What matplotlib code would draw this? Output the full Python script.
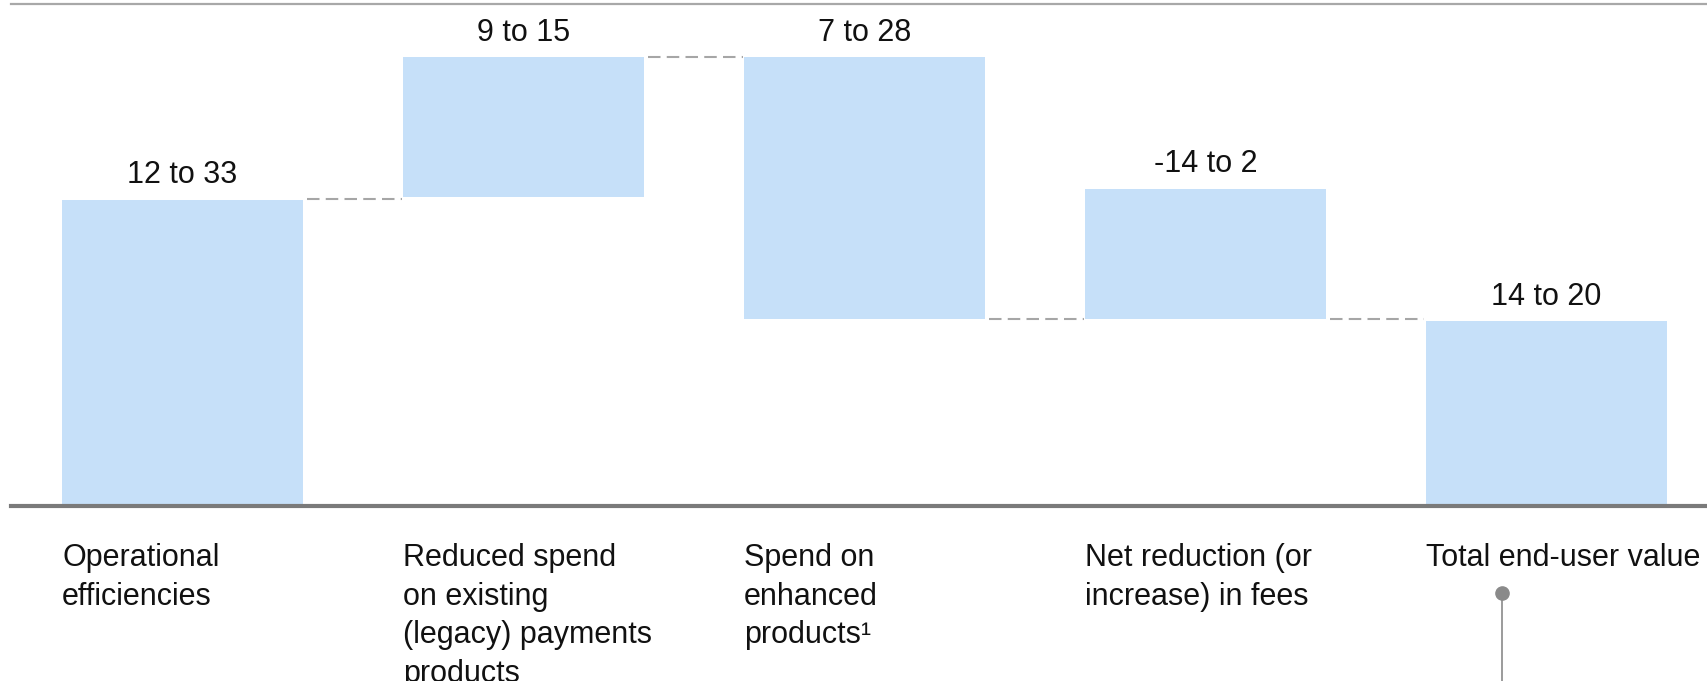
import matplotlib
matplotlib.use("Agg")
import matplotlib.pyplot as plt
import matplotlib.transforms as mtransforms

plt.rcParams['font.family'] = ['Liberation Sans', 'DejaVu Sans']

categories = [
    "Operational\nefficiencies",
    "Reduced spend\non existing\n(legacy) payments\nproducts",
    "Spend on\nenhanced\nproducts\u00b9",
    "Net reduction (or\nincrease) in fees",
    "Total end-user value",
]
value_labels = ["12 to 33", "9 to 15", "7 to 28", "-14 to 2", "14 to 20"]
bar_bottoms = [0.0, 28.4, 17.2, 17.2, 0.0]
bar_tops = [28.2, 41.3, 41.3, 29.2, 17.0]
connector_levels = [28.3, 41.3, 17.2, 17.2]

W, H = 1707, 681
fig = plt.figure(figsize=(W / 100, H / 100), dpi=100)
ax = fig.add_axes([0.0064, 0.257, 0.9936, 0.737])

bar_color = "#c6e0f9"
bw = 0.705
xs = list(range(len(categories)))
heights = [t - b for t, b in zip(bar_tops, bar_bottoms)]
ax.bar(xs, heights, bottom=bar_bottoms, width=bw, color=bar_color,
       edgecolor="none", zorder=2)

for x, top, lab in zip(xs, bar_tops, value_labels):
    ax.annotate(lab, (x, top), xytext=(0, 7), textcoords="offset points",
                ha="center", va="bottom", fontsize=22, color="#111111")

for i, lvl in enumerate(connector_levels):
    ax.plot([xs[i] + bw / 2 + 0.012, xs[i + 1] - bw / 2 - 0.005], [lvl, lvl],
            color="#a6a6a6", lw=1.5, dashes=(6.0, 3.0), zorder=1)

ax.set_xlim(-0.503, 4.471)
ax.set_ylim(0, 46.2)

for s in ["left", "right"]:
    ax.spines[s].set_visible(False)
ax.spines["top"].set_color("#a8a8a8")
ax.spines["top"].set_linewidth(1.6)
ax.spines["bottom"].set_color("#7a7a7a")
ax.spines["bottom"].set_linewidth(3.0)
ax.set_xticks([])
ax.set_yticks([])

trans = mtransforms.blended_transform_factory(ax.transData, fig.transFigure)
for x, cat in zip(xs, categories):
    ax.text(x - bw / 2, 1 - 543 / H, cat, transform=trans, ha="left", va="top",
            fontsize=22, color="#111111", linespacing=1.38)

# callout marker below the total
dot_x = xs[-1] - bw / 2 + 0.2235
dot_y = 1 - 593 / H
ax.plot([dot_x, dot_x], [dot_y, 0.0], transform=trans, color="#8a8a8a",
        lw=1.2, clip_on=False)
ax.plot([dot_x], [dot_y], transform=trans, marker="o", markersize=9.5,
        color="#8a8a8a", clip_on=False, zorder=5)

fig.savefig("out.png", dpi=100)
